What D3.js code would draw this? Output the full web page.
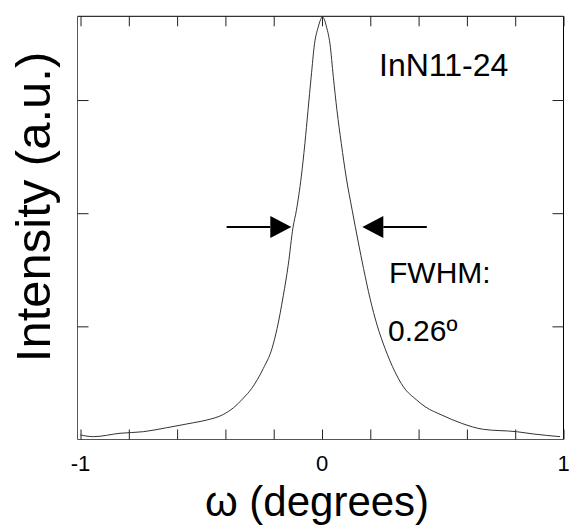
<!DOCTYPE html>
<html>
<head>
<meta charset="utf-8">
<script src="https://cdn.jsdelivr.net/npm/d3@7/dist/d3.min.js"></script>
<style>
  html, body { margin: 0; padding: 0; background: #fff; }
  svg { display: block; font-family: "Liberation Sans", Arial, sans-serif; }
</style>
</head>
<body>
<svg id="chart" width="579" height="525"></svg>
<script>
// ---- data ----
const omega = [-1.000, -0.947, -0.836, -0.740, -0.643, -0.533, -0.477, -0.409, -0.367, -0.326,
  -0.291, -0.243, -0.207, -0.186, -0.160, -0.140, -0.120, -0.106, -0.086, -0.071, -0.058,
  -0.045, -0.031, -0.016, -0.006, 0.001, 0.010, 0.019, 0.033, 0.047, 0.062, 0.080, 0.100,
  0.125, 0.150, 0.172, 0.199, 0.228, 0.261, 0.302, 0.337, 0.392, 0.427, 0.496, 0.578,
  0.668, 0.806, 0.875, 0.986];
const intensity = [0.040, 0.025, 0.055, 0.069, 0.104, 0.148, 0.172, 0.221, 0.280, 0.365,
  0.452, 0.628, 0.805, 0.981, 1.275, 1.540, 1.876, 2.026, 2.320, 2.614, 2.908,
  3.202, 3.497, 3.643, 3.710, 3.735, 3.710, 3.643, 3.497, 3.202, 2.908, 2.614, 2.320,
  2.026, 1.746, 1.511, 1.246, 1.011, 0.805, 0.598, 0.466, 0.349, 0.290, 0.216, 0.143,
  0.090, 0.069, 0.049, 0.025];
const xTicks = [-1, -0.8, -0.6, -0.4, -0.2, 0, 0.2, 0.4, 0.6, 0.8, 1];
const xTickLabels = [-1, 0, 1];
const yTicks = [1, 2, 3];
const halfMax = 1.878;
const fwhmArrows = { leftTail: -0.395, leftTip: -0.127, rightTip: 0.167, rightTail: 0.434 };
const sampleLabel = "InN11-24";
const fwhmLabel = "FWHM:";
const fwhmValue = "0.26º";
const xTitle = "ω (degrees)";
const yTitle = "Intensity (a.u.)";

// ---- layout ----
const svg = d3.select("#chart");
const L = 77.5, R = 563.5, T = 16.3, B = 439.5;
const x = d3.scaleLinear().domain([-1.0125, 1]).range([L, R]);
const y = d3.scaleLinear().domain([0, 3.74]).range([B, T]);

// frame
const frame = svg.append("g").attr("fill", "none").attr("stroke-width", 1);
frame.append("line").attr("x1", L).attr("x2", R).attr("y1", T).attr("y2", T).attr("stroke", "#000");
frame.append("line").attr("x1", R).attr("x2", R).attr("y1", T).attr("y2", B).attr("stroke", "#000");
frame.append("line").attr("x1", L).attr("x2", R).attr("y1", B).attr("y2", B).attr("stroke", "#555");
frame.append("line").attr("x1", L).attr("x2", L).attr("y1", T).attr("y2", B).attr("stroke", "#555");

// axes with inward ticks
const axB = svg.append("g").attr("transform", `translate(0,${B})`)
  .call(d3.axisTop(x).tickValues(xTicks).tickSize(10).tickFormat(""));
const axT = svg.append("g").attr("transform", `translate(0,${T})`)
  .call(d3.axisBottom(x).tickValues(xTicks).tickSize(10).tickFormat(""));
const axL = svg.append("g").attr("transform", `translate(${L},0)`)
  .call(d3.axisRight(y).tickValues(yTicks).tickSize(11).tickFormat(""));
const axR = svg.append("g").attr("transform", `translate(${R},0)`)
  .call(d3.axisLeft(y).tickValues(yTicks).tickSize(11).tickFormat(""));
[axB, axT, axL, axR].forEach(a => {
  a.select(".domain").remove();
  a.selectAll(".tick line").attr("stroke", "#222").attr("stroke-width", 1);
});

// tick labels
svg.append("g").selectAll("text").data(xTickLabels).join("text")
  .attr("x", d => x(d)).attr("y", 471)
  .attr("text-anchor", "middle").attr("font-size", 22).attr("fill", "#000")
  .text(d => d);

// axis titles
svg.append("text").attr("x", 317).attr("y", 516).attr("text-anchor", "middle")
  .attr("font-size", 42).attr("fill", "#000").text(xTitle);
svg.append("text").attr("transform", "translate(50,207) rotate(-90)")
  .attr("text-anchor", "middle").attr("font-size", 49).attr("fill", "#000").text(yTitle);

// curve
const pts = omega.map((o, i) => [o, intensity[i]]);
svg.append("path").datum(pts)
  .attr("fill", "none").attr("stroke", "#333").attr("stroke-width", 1)
  .attr("d", d3.line().x(d => x(d[0])).y(d => y(d[1])).curve(d3.curveMonotoneX));

// FWHM arrows
const ay = y(halfMax), head = 21, hh = 11;
function arrow(tail, tip) {
  const xt = x(tail), xp = x(tip), dir = Math.sign(xp - xt);
  svg.append("line").attr("x1", xt).attr("x2", xp - dir * head).attr("y1", ay).attr("y2", ay)
    .attr("stroke", "#000").attr("stroke-width", 2);
  svg.append("path").attr("fill", "#000")
    .attr("d", `M${xp},${ay} L${xp - dir * head},${ay - hh} L${xp - dir * head},${ay + hh} Z`);
}
arrow(fwhmArrows.leftTail, fwhmArrows.leftTip);
arrow(fwhmArrows.rightTail, fwhmArrows.rightTip);

// annotations
svg.append("text").attr("x", 379).attr("y", 76).attr("font-size", 32).attr("fill", "#000").text(sampleLabel);
svg.append("text").attr("x", 389).attr("y", 283).attr("font-size", 30).attr("fill", "#000").text(fwhmLabel);
svg.append("text").attr("x", 388).attr("y", 341).attr("font-size", 30).attr("fill", "#000").text(fwhmValue);
</script>
</body>
</html>
